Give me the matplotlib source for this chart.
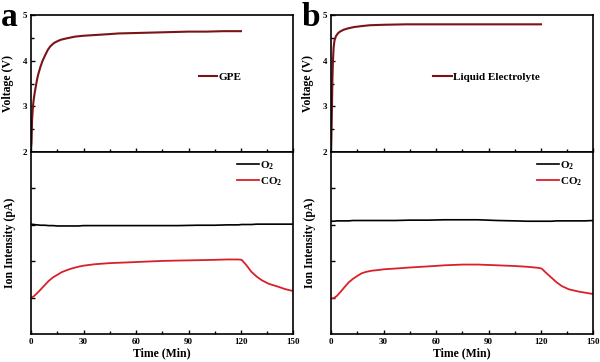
import matplotlib.pyplot as plt

plt.rcParams['font.family'] = ['Liberation Serif', 'DejaVu Serif']
plt.rcParams['font.weight'] = 'bold'
plt.rcParams['mathtext.fontset'] = 'custom'
plt.rcParams['mathtext.rm'] = 'Liberation Serif:bold'

# voltage data (time in min, volts)
t_v_a = [0, 0.2, 0.5, 1, 1.4, 2, 3.3, 4, 5.3, 6.5, 8.2, 9.5, 11, 13, 15, 16.8, 20, 25, 30, 42.5, 50, 60, 70, 80, 90, 100, 110, 120]
v_a = [2.1, 2.2, 2.7, 3.0, 3.14, 3.3, 3.58, 3.7, 3.87, 4.0, 4.14, 4.24, 4.32, 4.39, 4.43, 4.46, 4.49, 4.53, 4.55, 4.58, 4.6, 4.61, 4.62, 4.63, 4.64, 4.64, 4.65, 4.65]
t_v_b = [0, 0.2, 0.4, 0.7, 1, 1.4, 1.9, 2.7, 3.8, 5, 7, 9.5, 13, 17.2, 22, 30, 43, 60, 80, 100, 120]
v_b = [2.1, 2.5, 2.92, 3.6, 4.0, 4.3, 4.45, 4.54, 4.6, 4.64, 4.68, 4.71, 4.74, 4.76, 4.78, 4.79, 4.8, 4.8, 4.8, 4.8, 4.8]

# ion current data (arbitrary units)
t_ms = [0, 1.5, 3.3, 5.5, 7.8, 10, 12.5, 15, 17.4, 20, 23, 26.9, 30, 36.5, 45, 55.5, 65, 75, 84, 95, 105, 112, 118.5, 120.4, 123, 126, 129, 131.9, 136, 141.4, 145, 150]
o2_a = [3.02, 3.01, 3.0, 2.99, 2.99, 2.98, 2.98, 2.97, 2.97, 2.97, 2.97, 2.97, 2.98, 2.98, 2.98, 2.98, 2.98, 2.98, 2.98, 2.99, 2.99, 3.0, 3.0, 3.01, 3.01, 3.01, 3.02, 3.02, 3.02, 3.02, 3.02, 3.02]
co2_a = [1.0, 1.04, 1.12, 1.23, 1.35, 1.46, 1.56, 1.63, 1.7, 1.75, 1.8, 1.85, 1.88, 1.92, 1.95, 1.97, 1.99, 2.01, 2.02, 2.03, 2.04, 2.05, 2.05, 2.04, 1.9, 1.71, 1.58, 1.48, 1.38, 1.3, 1.24, 1.18]
o2_b = [3.1, 3.1, 3.11, 3.11, 3.11, 3.11, 3.12, 3.12, 3.12, 3.12, 3.12, 3.12, 3.12, 3.12, 3.13, 3.13, 3.14, 3.14, 3.14, 3.12, 3.11, 3.1, 3.1, 3.1, 3.1, 3.1, 3.11, 3.11, 3.11, 3.11, 3.11, 3.12]
co2_b = [0.98, 0.99, 1.05, 1.17, 1.3, 1.42, 1.52, 1.6, 1.67, 1.71, 1.74, 1.76, 1.78, 1.8, 1.83, 1.86, 1.89, 1.91, 1.91, 1.89, 1.87, 1.85, 1.82, 1.8, 1.68, 1.55, 1.42, 1.32, 1.23, 1.17, 1.14, 1.1]

panels = [
    ('a', 0.052, t_v_a, v_a, 'GPE', o2_a, co2_a, (0.6, 0.55)),
    ('b', 0.552, t_v_b, v_b, 'Liquid Electrolyte', o2_b, co2_b, (0.35, 0.55)),
]

fig = plt.figure(figsize=(6, 3.62), dpi=100)

for tag, left, tv, vv, name, o2, co2, lpos in panels:
    ax1 = fig.add_axes([left, 0.58, 0.437, 0.378])
    ax2 = fig.add_axes([left, 0.077, 0.437, 0.503], sharex=ax1)

    ax1.plot(tv, vv, color='#7a1418', lw=1.5, label=name)
    ax1.set_ylim(2, 5)
    ax1.set_yticks([2, 3, 4, 5])
    ax1.set_yticks([2.5, 3.5, 4.5], minor=True)
    ax1.set_ylabel('Voltage (V)', fontsize=8.5, fontweight='bold', labelpad=6)
    ax1.legend(loc='center left', bbox_to_anchor=lpos, frameon=False, fontsize=8,
               handlelength=1.7, handletextpad=0.1)
    ax1.tick_params(labelbottom=False)

    ax2.plot(t_ms, o2, color='black', lw=1.2, label='O$_2$')
    ax2.plot(t_ms, co2, color='#d9202a', lw=1.3, label='CO$_2$')
    ax2.set_ylim(0, 5)
    ax2.set_yticks([1, 2, 3, 4])
    ax2.set_yticklabels([])
    ax2.set_ylabel('Ion Intensity (pA)', fontsize=8.5, fontweight='bold', labelpad=8)
    ax2.legend(loc='upper right', bbox_to_anchor=(0.985, 1.0), frameon=False, fontsize=8,
               handlelength=2.0, handletextpad=0.1, borderaxespad=0.2, labelspacing=0.3)

    ax2.set_xlim(0, 150)
    ax2.set_xticks([0, 30, 60, 90, 120, 150])
    ax2.set_xticks([15, 45, 75, 105, 135], minor=True)
    ax2.set_xlabel('Time (Min)', fontsize=8.5, fontweight='bold', labelpad=1)

    for ax in (ax1, ax2):
        for s in ax.spines.values():
            s.set_linewidth(1.2)
        ax.tick_params(direction='in', which='both', labelsize=6.5, width=1, pad=3)
        ax.tick_params(which='major', length=3)
        ax.tick_params(which='minor', length=2)

    fig.text(left - 0.05, 0.995, tag, fontsize=24, fontweight='bold', va='top', ha='left')

fig.savefig('out.png', dpi=100)
